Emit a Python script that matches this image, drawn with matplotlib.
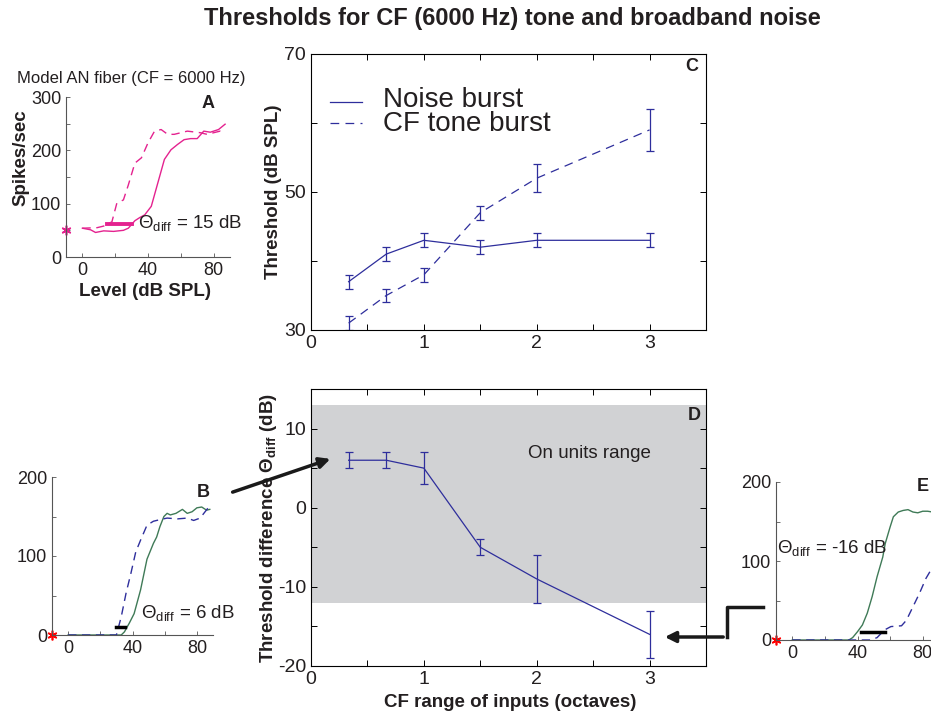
import matplotlib
matplotlib.use('Agg')
import matplotlib.pyplot  as plt
import matplotlib.patches as mpatches
import matplotlib.lines   as mlines


plt.rcParams['font.family']      = ['Liberation Sans', 'DejaVu Sans']
plt.rcParams['mathtext.fontset'] = 'custom'
plt.rcParams['mathtext.rm']      = 'Liberation Sans'
plt.rcParams['mathtext.bf']      = 'Liberation Sans:bold'
plt.rcParams['xtick.direction']  = 'in'
plt.rcParams['ytick.direction']  = 'in'

blue    = '#2e2e9c'
magenta = '#e4228f'
green   = '#3f7a57'
band    = '#d1d2d4'
ink     = '#231f20'

# ---- summary data (panels C and D)
octaves   = [1 / 3, 2 / 3, 1, 1.5, 2, 3]
noise_thr = [37, 41, 43, 42, 43, 43]
noise_err = [1, 1, 1, 1, 1, 1]
tone_thr  = [31, 35, 38, 47, 52, 59]
tone_err  = [1, 1, 1, 1, 2, 3]
diff_thr  = [6, 6, 5, -5, -9, -16]
diff_err  = [1, 1, 2, 1, 3, 3]
on_range  = [-12, 13]

# ---- rate-level curves (panels A, B, E)
a_noise_lvl  = [0, 5, 8, 13, 19, 25, 28, 32, 35, 38, 42, 46, 50, 54, 58, 62,
                66, 70, 74, 78, 83, 87]
a_noise_rate = [54, 51, 46, 49, 48, 50, 54, 68, 74, 79, 95, 139, 183, 201,
                211, 220, 222, 222, 236, 234, 239, 249]
a_tone_lvl   = [0, 9, 13, 18, 21, 25, 28, 32, 36, 40, 44, 48, 52, 56, 64, 72,
                76, 80, 84, 87]
a_tone_rate  = [54, 55, 58, 66, 101, 107, 135, 176, 186, 214, 236, 239, 230,
                230, 236, 233, 230, 233, 236, 232]
a_thr        = [15, 30, 62]
a_spont      = 50

b_noise_lvl  = [0, 33, 35, 38, 41, 45, 49, 53, 55, 57, 59.5, 61.5, 63.5, 67,
                71, 74, 77, 80, 83, 86, 88]
b_noise_rate = [0, 0, 4, 15, 27, 57, 96, 116, 124, 137, 150, 154, 152, 154,
                159, 154, 156, 161, 162, 158, 159]
b_tone_lvl   = [0, 30, 33, 36, 39, 42, 45, 49, 53, 57, 61.5, 68, 74, 78, 82,
                87]
b_tone_rate  = [0, 0, 23, 53, 78, 105, 120, 139, 144, 146, 148, 147, 148, 145,
                148, 161]
b_thr        = [30, 35.5, 10]

e_noise_lvl  = [0, 34.7, 37, 40, 43, 46, 49, 52, 55.5, 57, 60, 62, 65, 68, 71,
                74, 77, 80, 83, 86]
e_noise_rate = [0, 0, 3, 10.5, 19, 34, 55, 80, 105, 122, 143, 156, 162, 164,
                165, 162, 161, 163, 163, 162]
e_tone_lvl   = [0, 48, 52, 56.5, 60.5, 67, 70, 74, 78, 82, 86]
e_tone_rate  = [0, 0, 3, 12.6, 17, 18, 25, 42, 59, 78, 92]
e_thr        = [42, 57, 10.5]

lvl_ticks  = [0, 20, 40, 60, 80]
lvl_labels = ['0', '', '40', '', '80']

W, H = 931, 715
star = (6, 2, 0)


def px_box(left, top, right, bottom):
    """pixel box -> figure fraction rect"""
    return [left / W, 1 - bottom / H, (right - left) / W, (bottom - top) / H]


def px(x, y):
    return x / W, 1 - y / H


def small_axes(ax, ymax, letter, lx, ly):
    ax.set_xlim(-10, 90)
    ax.set_ylim(0, ymax)
    ax.spines['top'].set_visible(False)
    ax.spines['right'].set_visible(False)
    for s in ['left', 'bottom']:
        ax.spines[s].set_color('#555555')
        ax.spines[s].set_linewidth(0.8)
    ax.set_xticks(lvl_ticks, lvl_labels)
    yt = list(range(0, ymax + 1, 50))
    ax.set_yticks(yt, [str(v) if v % 100 == 0 else '' for v in yt])
    ax.tick_params(labelsize=13, colors='#555555', labelcolor=ink,
                   length=3, width=0.6)
    ax.text(lx, ly, letter, transform=ax.transAxes, fontsize=13,
            fontweight='bold', color=ink, ha='center', va='center')


fig = plt.figure(figsize=(W / 100, H / 100), dpi=100)

fig.text(*px(512, 18), 'Thresholds for CF (6000 Hz) tone and broadband noise',
         fontsize=17, fontweight='bold', ha='center', va='center', color=ink)

# ---- A
ax = fig.add_axes(px_box(66, 97, 230, 257))
ax.plot(a_noise_lvl, a_noise_rate, color=magenta, lw=1)
ax.plot(a_tone_lvl, a_tone_rate, color=magenta, lw=1, dashes=(6, 4))
ax.plot(a_thr[:2], [a_thr[2]] * 2, color=magenta, lw=2.8)
ax.plot([-10], [a_spont], marker=star, color=magenta, ms=7, mew=1.2,
        clip_on=False)
ax.text(34, 62, r'Θ$_{\rm diff}$ = 15 dB', fontsize=13.5, color=ink,
        va='center')
small_axes(ax, 300, 'A', 0.866, 0.96)
ax.set_ylabel('Spikes/sec', fontsize=13.5, fontweight='bold', color=ink)
ax.yaxis.set_label_coords(-0.22, 0.62)
ax.set_xlabel('Level (dB SPL)', fontsize=13.5, fontweight='bold', color=ink)
ax.xaxis.set_label_coords(0.48, -0.16)
fig.text(*px(17, 78), 'Model AN fiber (CF = 6000 Hz)', fontsize=12,
         color=ink, va='center')

# ---- B
ax = fig.add_axes(px_box(52, 477, 213, 635))
ax.plot(b_noise_lvl, b_noise_rate, color=green, lw=1)
ax.plot(b_tone_lvl, b_tone_rate, color=blue, lw=1, dashes=(6, 4))
ax.plot(b_thr[:2], [b_thr[2]] * 2, color='black', lw=2.5)
ax.plot([-10], [0], marker=star, color='red', ms=7, mew=1.2, clip_on=False)
ax.text(45, 27, r'Θ$_{\rm diff}$ = 6 dB', fontsize=13.5, color=ink,
        va='center')
small_axes(ax, 200, 'B', 0.94, 0.905)

# ---- E
ax = fig.add_axes(px_box(776, 482, 939, 640))
ax.plot(e_noise_lvl, e_noise_rate, color=green, lw=1)
ax.plot(e_tone_lvl, e_tone_rate, color=blue, lw=1, dashes=(6, 4))
ax.plot(e_thr[:2], [e_thr[2]] * 2, color='black', lw=2.5)
ax.plot([-10], [0], marker=star, color='red', ms=7, mew=1.2, clip_on=False)
ax.text(-9.5, 116, r'Θ$_{\rm diff}$ = -16 dB', fontsize=13.5, color=ink,
        va='center')
small_axes(ax, 200, 'E', 0.90, 0.97)

# ---- C
ax = fig.add_axes(px_box(311, 54, 706, 330))
ax.errorbar(octaves, noise_thr, yerr=noise_err, color=blue, lw=0.9,
            capsize=3, elinewidth=0.9, capthick=0.9)
ax.errorbar(octaves, tone_thr, yerr=tone_err, color=blue, lw=0.9,
            dashes=(7, 5), capsize=3, elinewidth=0.9, capthick=0.9)
ax.set_xlim(0, 3.5)
ax.set_ylim(30, 70)
ax.set_xticks([0, 0.5, 1, 1.5, 2, 2.5, 3, 3.5],
              ['0', '', '1', '', '2', '', '3', ''])
ax.set_yticks([30, 40, 50, 60, 70], ['30', '', '50', '', '70'])
ax.tick_params(top=True, right=True, labelsize=14, labelcolor=ink,
               length=4, width=0.7)
ax.set_ylabel('Threshold (dB SPL)', fontsize=13.5, fontweight='bold',
              color=ink)
ax.yaxis.set_label_coords(-0.074, 0.5)
ax.text(0.965, 0.953, 'C', transform=ax.transAxes, fontsize=13,
        fontweight='bold', ha='center', va='center', color=ink)
# legend keys
ax.add_line(mlines.Line2D([0.048, 0.129], [0.826, 0.826], color=blue,
                          lw=0.9, transform=ax.transAxes))
ax.add_line(mlines.Line2D([0.048, 0.129], [0.75, 0.75], color=blue,
                          lw=0.9, dashes=(7, 5), transform=ax.transAxes))
ax.text(0.182, 0.832, 'Noise burst', transform=ax.transAxes, fontsize=20,
        va='center', color=ink)
ax.text(0.182, 0.746, 'CF tone burst', transform=ax.transAxes, fontsize=20,
        va='center', color=ink)

# ---- D
ax = fig.add_axes(px_box(311, 389, 706, 666))
ax.axhspan(on_range[0], on_range[1], color=band, lw=0, zorder=0)
ax.errorbar(octaves, diff_thr, yerr=diff_err, color=blue, lw=0.9,
            capsize=3, elinewidth=0.9, capthick=0.9)
ax.set_xlim(0, 3.5)
ax.set_ylim(-20, 15)
ax.set_xticks([0, 0.5, 1, 1.5, 2, 2.5, 3, 3.5],
              ['0', '', '1', '', '2', '', '3', ''])
ax.set_yticks([-20, -15, -10, -5, 0, 5, 10, 15],
              ['-20', '', '-10', '', '0', '', '10', ''])
ax.tick_params(top=True, right=True, labelsize=14, labelcolor=ink,
               length=4, width=0.7)
ax.text(1.92, 6.8, 'On units range', fontsize=13.5, va='center', color=ink)
ax.set_ylabel(r'Threshold difference Θ$_{\bf diff}$ (dB)', fontsize=13.5,
              fontweight='bold', color=ink)
ax.yaxis.set_label_coords(-0.08, 0.5)
ax.set_xlabel('CF range of inputs (octaves)', fontsize=13.5,
              fontweight='bold', color=ink)
ax.xaxis.set_label_coords(0.504, -0.1)
ax.text(0.97, 0.906, 'D', transform=ax.transAxes, fontsize=13,
        fontweight='bold', ha='center', va='center', color=ink)

# ---- connecting arrows
fig.add_artist(mpatches.FancyArrowPatch(px(230, 493), px(333, 458),
                                        transform=fig.transFigure,
                                        arrowstyle='-|>', mutation_scale=16,
                                        lw=2.5, color='#1a1a1a'))
xs, ys = zip(px(763, 607), px(727, 607), px(727, 637))
fig.add_artist(mlines.Line2D(xs, ys, transform=fig.transFigure,
                             lw=2.5, color='#1a1a1a'))
fig.add_artist(mpatches.FancyArrowPatch(px(726, 637), px(662, 637),
                                        transform=fig.transFigure,
                                        arrowstyle='-|>', mutation_scale=16,
                                        lw=2.5, color='#1a1a1a'))

plt.savefig('out.png', dpi=100)
